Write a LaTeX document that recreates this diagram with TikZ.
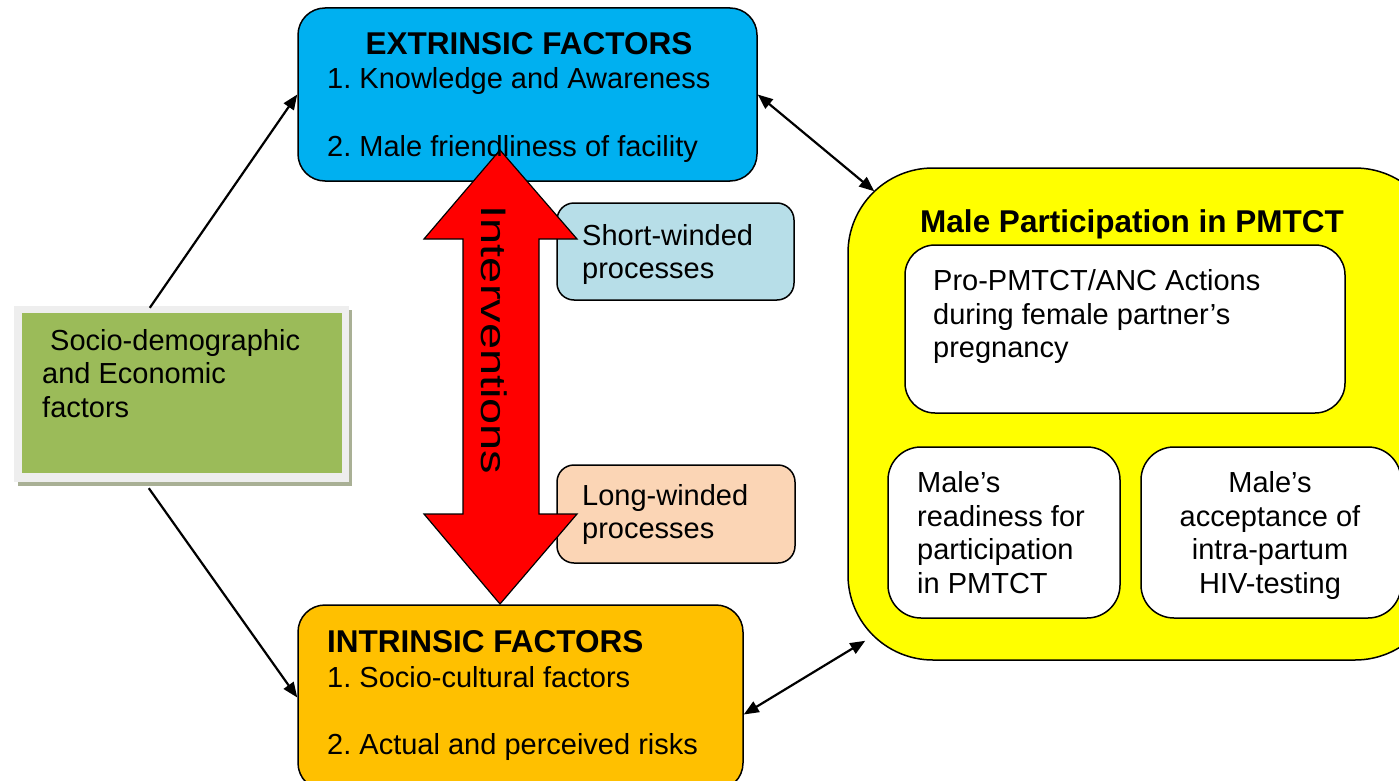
\documentclass[tikz,border=0pt]{standalone}
\usepackage{fontspec}
\setmainfont{Liberation Sans}
\usetikzlibrary{arrows.meta,calc}
\frenchspacing
\definecolor{cblue}{HTML}{00B0F0}
\definecolor{corange}{HTML}{FFC000}
\definecolor{cgreen}{HTML}{9BBB59}
\definecolor{cgreenshadow}{HTML}{A9B095}
\definecolor{cgreenframe}{HTML}{EEEEEE}
\definecolor{clightblue}{HTML}{B7DEE8}
\definecolor{cpeach}{HTML}{FBD5B5}
\definecolor{cyellow}{HTML}{FFFF00}
\definecolor{cred}{HTML}{FF0000}
\begin{document}
\begin{tikzpicture}[x=1pt,y=-1pt,
  rbox/.style={draw=black,line width=1.5pt,rounded corners=#1,inner sep=0pt},
  flatbox/.style={inner sep=0pt},
  txt/.style={anchor=base west,inner sep=0pt,font=\fontsize{29}{34}\selectfont},
  ctxt/.style={anchor=base,inner sep=0pt,font=\fontsize{29}{34}\selectfont},
  btxt/.style={inner sep=0pt,font=\fontsize{31.5}{36}\selectfont\bfseries},
  conn/.style={line width=2.2pt,draw=black},
  tip/.style={-{Triangle[length=15pt,width=12pt]}},
  dtip/.style={{Triangle[length=15pt,width=12pt]}-{Triangle[length=15pt,width=12pt]}}
]
\useasboundingbox (0,0) rectangle (1399,781);

% Male participation (yellow)
\node[rbox=85pt,fill=cyellow,minimum width=592pt,minimum height=492pt] (male) at (1144,414) {};
\node[rbox=30pt,fill=white,minimum width=440pt,minimum height=168pt] (pro) at (1125,329) {};
\node[rbox=33pt,fill=white,minimum width=232pt,minimum height=171pt] (ready) at (1004,532.5) {};
\node[rbox=33pt,fill=white,minimum width=260pt,minimum height=171pt] (accept) at (1271,532.5) {};

% extrinsic / intrinsic
\node[rbox=27pt,fill=cblue,minimum width=459pt,minimum height=173pt] (ext) at (527.5,94.5) {};
\node[rbox=27pt,fill=corange,minimum width=445pt,minimum height=185pt] (int) at (520.5,697.5) {};

% socio-demographic (framed green with shadow)
\fill[cgreenshadow] (18,310) rectangle (352,486);
\node[flatbox,fill=cgreenframe,minimum width=335pt,minimum height=176pt] (green) at (181.5,394) {};
\fill[cgreen] (22,313) rectangle (342,473);

% short / long winded
\node[rbox=17pt,fill=clightblue,minimum width=237pt,minimum height=97pt] (short) at (675.5,251.5) {};
\node[rbox=17pt,fill=cpeach,minimum width=238pt,minimum height=98pt] (long) at (676,514) {};

% interventions double arrow
\filldraw[fill=cred,draw=black,line width=1.2pt,line join=miter]
  (500,150) -- (577,239) -- (539,239) -- (539,514) -- (577,514) -- (500,604)
  -- (424,514) -- (463,514) -- (463,239) -- (424,239) -- cycle;
\node[anchor=base,inner sep=0pt,rotate=-90] (interv) at (481,340)
  {\scalebox{1.32}[1]{\fontsize{35.5}{42}\selectfont Interventions}};

% texts
\node[btxt,anchor=base] (extT) at (529,55) {EXTRINSIC FACTORS};
\node[txt] (ext1) at (327,89) {1. Knowledge and Awareness};
\node[txt] (ext2) at (327,157) {2. Male friendliness of facility};

\node[btxt,anchor=base west] (intT) at (327,652) {INTRINSIC FACTORS};
\node[txt] (int1) at (327,687) {1. Socio-cultural factors};
\node[txt] (int2) at (327,754) {2. Actual and perceived risks};

\node[txt] (g1) at (50,350) {Socio-demographic};
\node[txt] (g2) at (42,383) {and Economic};
\node[txt] (g3) at (42,417) {factors};

\node[txt] (s1) at (582,245) {Short-winded};
\node[txt] (s2) at (582,278) {processes};
\node[txt] (l1) at (582,505) {Long-winded};
\node[txt] (l2) at (582,538) {processes};

\node[btxt,anchor=base] (maleT) at (1132,232) {Male Participation in PMTCT};
\node[txt] (p1) at (933,290) {Pro-PMTCT/ANC Actions};
\node[txt] (p2) at (933,324) {during female partner’s};
\node[txt] (p3) at (933,357) {pregnancy};

\node[txt] (r1) at (917,492) {Male’s};
\node[txt] (r2) at (917,526) {readiness for};
\node[txt] (r3) at (917,559) {participation};
\node[txt] (r4) at (917,593) {in PMTCT};

\node[ctxt] (a1) at (1270,492) {Male’s};
\node[ctxt] (a2) at (1270,526) {acceptance of};
\node[ctxt] (a3) at (1270,559) {intra-partum};
\node[ctxt] (a4) at (1270,593) {HIV-testing};

% connectors
\draw[conn,tip] ($(green.north west)+(136,2)$) -- (ext.west);
\draw[conn,tip] ($(green.south west)+(135,6)$) -- (int.west);
\draw[conn,dtip] (ext.east) -- ($(male.north west)+(27,24)$);
\draw[conn,dtip] ($(int.east)+(0,17)$) -- ($(male.south west)+(18,-20)$);
\end{tikzpicture}
\end{document}
